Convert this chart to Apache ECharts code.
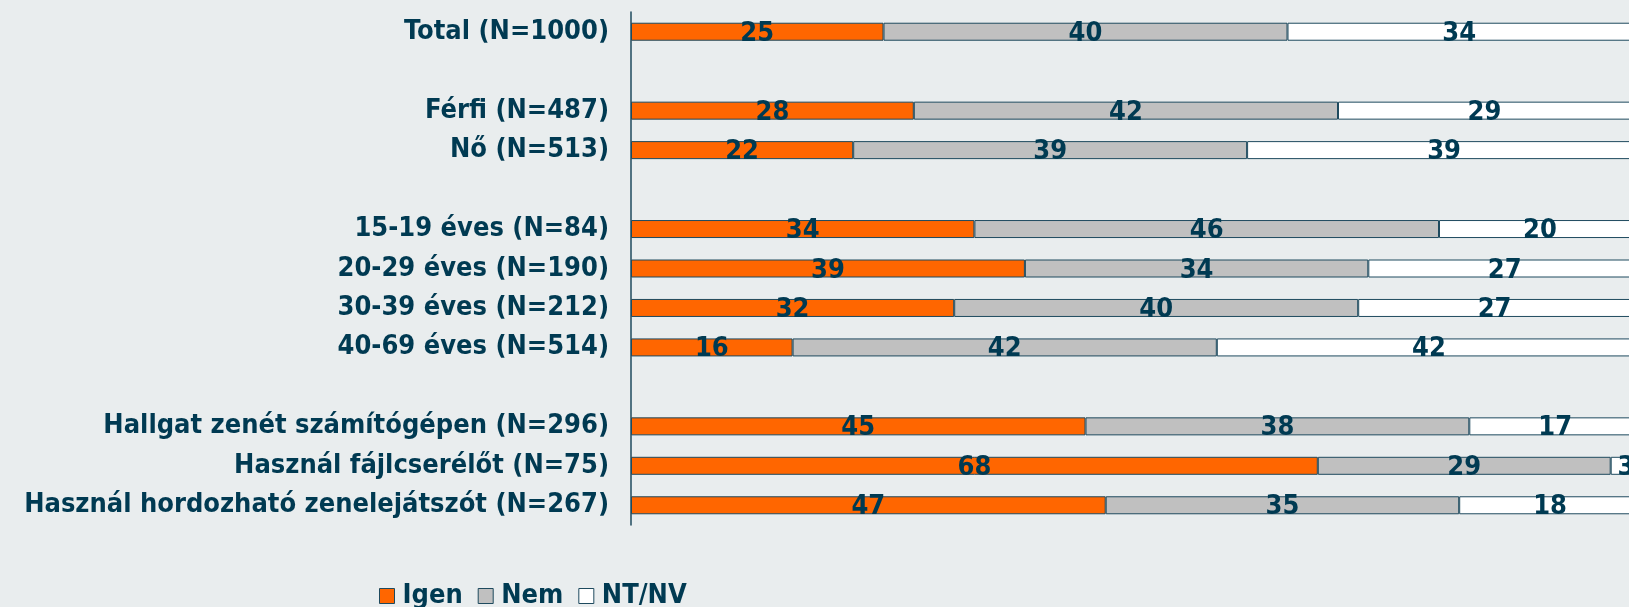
<!DOCTYPE html>
<html>
<head>
<meta charset="utf-8">
<script src="https://cdn.jsdelivr.net/npm/echarts@6/dist/echarts.min.js"></script>
<style>
  html, body { margin: 0; padding: 0; background: #e9edee; overflow: hidden; }
  /* a diagram kicsit túllóg a jobb szélen, mint az eredetin */
  #chart { width: 1641px; height: 607px; }
</style>
</head>
<body>
<div id="chart"></div>
<script>
// kategóriák (üres sorok = elválasztók)
const categories = [
  'Total (N=1000)', '',
  'Férfi (N=487)', 'Nő (N=513)', '',
  '15-19 éves (N=84)', '20-29 éves (N=190)', '30-39 éves (N=212)', '40-69 éves (N=514)', '',
  'Hallgat zenét számítógépen (N=296)', 'Használ fájlcserélőt (N=75)', 'Használ hordozható zenelejátszót (N=267)'
];
const igen = [25, '-', 28, 22, '-', 34, 39, 32, 16, '-', 45, 68, 47];
const nem  = [40, '-', 42, 39, '-', 46, 34, 40, 42, '-', 38, 29, 35];
const ntnv = [34, '-', 29, 39, '-', 20, 27, 27, 42, '-', 17, 3, 18];

const dark = '#003a52';
const edge = '#1e4a5e';
const font = '"DejaVu Sans Condensed", "DejaVu Sans", sans-serif';

function serie(name, data, color) {
  return {
    name: name,
    type: 'bar',
    stack: 'all',
    barWidth: 18,
    data: data,
    itemStyle: { color: color, borderColor: edge, borderWidth: 1 },
    label: {
      show: true,
      position: 'inside',
      color: dark,
      fontFamily: font,
      fontWeight: 'bold',
      fontSize: 27,
      textBorderWidth: 0,
      offset: [0, 2]
    }
  };
}

let myChart = echarts.init(document.getElementById('chart'));
myChart.setOption({
  backgroundColor: '#e9edee',
  animation: false,
  textStyle: { fontFamily: font },
  grid: { left: 631, right: 0, top: 12, bottom: 82, containLabel: false },
  legend: {
    left: 379,
    top: 581,
    padding: 0,
    icon: 'rect',
    itemWidth: 15,
    itemHeight: 15,
    itemGap: 15,
    textStyle: { color: dark, fontFamily: font, fontWeight: 'bold', fontSize: 27, lineHeight: 30, padding: [0, 0, 0, 3] },
    data: [
      { name: 'Igen', itemStyle: { borderColor: edge, borderWidth: 1 } },
      { name: 'Nem', itemStyle: { borderColor: edge, borderWidth: 1 } },
      { name: 'NT/NV', itemStyle: { borderColor: edge, borderWidth: 1 } }
    ]
  },
  xAxis: {
    type: 'value',
    min: 0,
    max: 100,
    show: false
  },
  yAxis: {
    type: 'category',
    inverse: true,
    data: categories,
    axisLine: { show: true, lineStyle: { color: edge, width: 1.5 } },
    axisTick: { show: false },
    splitLine: { show: false },
    axisLabel: {
      margin: 22,
      color: dark,
      fontFamily: font,
      fontWeight: 'bold',
      fontSize: 27,
      padding: [3, 0, 0, 0]
    }
  },
  series: [
    serie('Igen', igen, '#ff6600'),
    serie('Nem', nem, '#c0c0c0'),
    serie('NT/NV', ntnv, '#ffffff')
  ]
});
</script>
</body>
</html>
